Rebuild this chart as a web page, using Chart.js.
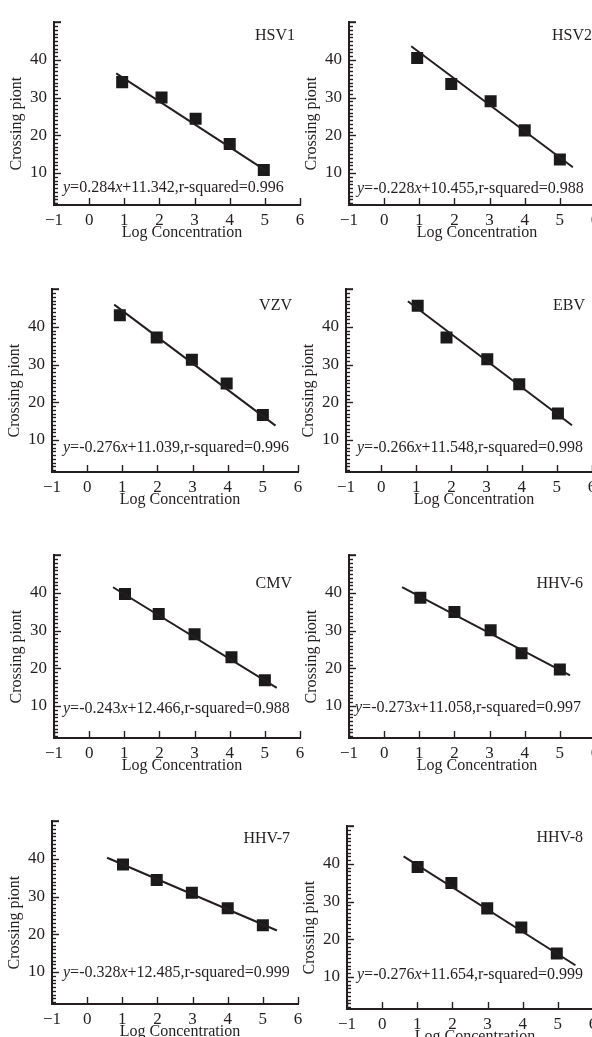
<!DOCTYPE html>
<html>
<head>
<meta charset="utf-8">
<script src="https://cdn.jsdelivr.net/npm/chart.js@4.4.1/dist/chart.umd.min.js"></script>
<style>
  html, body { margin: 0; padding: 0; background: #fff; }
  body { width: 592px; height: 1037px; position: relative; overflow: hidden; }
  canvas { position: absolute; }
</style>
</head>
<body>
<script>
// --- data ---
const virusNames = ["HSV1", "HSV2", "VZV", "EBV", "CMV", "HHV-6", "HHV-7", "HHV-8"];
const equations = [
  "y=0.284x+11.342,r-squared=0.996",
  "y=-0.228x+10.455,r-squared=0.988",
  "y=-0.276x+11.039,r-squared=0.996",
  "y=-0.266x+11.548,r-squared=0.998",
  "y=-0.243x+12.466,r-squared=0.988",
  "y=-0.273x+11.058,r-squared=0.997",
  "y=-0.328x+12.485,r-squared=0.999",
  "y=-0.276x+11.654,r-squared=0.999"
];
const xTicks = [-1, 0, 1, 2, 3, 4, 5, 6];
const yTicks = [10, 20, 30, 40];

// measured points (log concentration, crossing point)
const pointLogConc = [
  [0.94, 2.06, 3.03, 4.00, 4.97],
  [0.94, 1.91, 3.03, 4.00, 5.00],
  [0.93, 1.98, 2.98, 3.97, 5.00],
  [1.04, 1.86, 3.02, 3.93, 5.03],
  [1.02, 1.98, 3.00, 4.05, 5.00],
  [1.03, 2.00, 3.03, 3.91, 5.00],
  [1.02, 1.98, 2.98, 4.00, 5.00],
  [1.01, 1.97, 2.99, 3.96, 4.97]
];
const pointCp = [
  [34.1, 30.0, 24.4, 17.7, 10.8],
  [40.5, 33.6, 29.0, 21.3, 13.6],
  [43.1, 37.2, 31.3, 25.0, 16.6],
  [45.6, 37.2, 31.4, 24.8, 17.0],
  [39.7, 34.4, 29.0, 22.9, 16.8],
  [38.7, 34.9, 30.1, 24.0, 19.7],
  [38.5, 34.4, 31.0, 26.9, 22.4],
  [39.2, 34.9, 28.2, 23.1, 16.2]
];
// fitted line ends
const fitLogConc = [
  [0.77, 5.05], [0.77, 5.37], [0.77, 5.36], [0.76, 5.43],
  [0.68, 5.34], [0.51, 5.29], [0.57, 5.40], [0.61, 5.50]
];
const fitCp = [
  [36.4, 10.5], [43.6, 11.5], [45.9, 13.8], [46.8, 13.9],
  [41.5, 14.8], [41.5, 18.1], [40.3, 21.0], [42.0, 13.1]
];

// --- page layout (pixels) ---
const panelPos = [
  {axisX: 54,  capY: 13,  titleDx: -5,  titleDy: 14, eqDx: 9,  eqDy: -17},
  {axisX: 349, capY: 13,  titleDx: -3,  titleDy: 14, eqDx: 8,  eqDy: -16},
  {axisX: 52,  capY: 280, titleDx: -6,  titleDy: 17, eqDx: 11, eqDy: -24},
  {axisX: 346, capY: 280, titleDx: -7,  titleDy: 17, eqDx: 11, eqDy: -24},
  {axisX: 54,  capY: 546, titleDx: -8,  titleDy: 29, eqDx: 9,  eqDy: -29},
  {axisX: 349, capY: 546, titleDx: -12, titleDy: 29, eqDx: 6,  eqDy: -30},
  {axisX: 52,  capY: 812, titleDx: -8,  titleDy: 18, eqDx: 11, eqDy: -31},
  {axisX: 347, capY: 817, titleDx: -10, titleDy: 12, eqDx: 10, eqDy: -34}
];

const ink = "#231f20";
const serif = '"Liberation Serif", "Times New Roman", serif';
const Y_AXIS_W = 54, TOP_PAD = 8, AREA_H = 192, AREA_W = 246, X_AXIS_H = 45, RIGHT_PAD = 12;

function line(ctx, x1, y1, x2, y2) {
  ctx.beginPath();
  ctx.moveTo(x1, y1);
  ctx.lineTo(x2, y2);
  ctx.stroke();
}

const decorPlugin = {
  id: "decor",
  afterDraw(chart, args, opts) {
    const ctx = chart.ctx;
    const a = chart.chartArea;
    const xs = chart.scales.x, ys = chart.scales.y;
    const p = opts.pos;
    ctx.save();
    ctx.strokeStyle = ink;
    ctx.fillStyle = ink;

    // inward ticks
    ctx.lineWidth = 1.4;
    xTicks.forEach(v => {
      const px = Math.round(xs.getPixelForValue(v)) + 0.5;
      line(ctx, px, a.bottom, px, a.bottom - 7);
    });
    for (let v = 2; v <= 49; v++) {
      const py = Math.round(ys.getPixelForValue(v)) + 0.5;
      line(ctx, a.left, py, a.left + (v % 10 === 0 ? 7 : 4), py);
    }
    ctx.lineWidth = 2;
    line(ctx, a.left - 1, a.top, a.left + 7, a.top);

    // virus name
    ctx.font = "16px " + serif;
    ctx.textAlign = "right";
    ctx.textBaseline = "middle";
    ctx.fillText(opts.name, a.right + p.titleDx, a.top + p.titleDy);

    // regression equation with italic y and x
    const m = opts.eq.match(/^y(=[-\d.]+)x(.*)$/);
    const parts = [["y", true], [m[1], false], ["x", true], [m[2], false]];
    let x = a.left + p.eqDx;
    const y = a.bottom + p.eqDy;
    ctx.textAlign = "left";
    parts.forEach(([t, it]) => {
      ctx.font = (it ? "italic " : "") + "16px " + serif;
      ctx.fillText(t, x, y);
      x += ctx.measureText(t).width;
    });

    // axis titles
    ctx.font = "16px " + serif;
    ctx.textAlign = "center";
    ctx.fillText("Log Concentration", (a.left + a.right) / 2 + 5, a.bottom + 28);
    ctx.translate(a.left - 37, (a.top + a.bottom) / 2 + 10);
    ctx.rotate(-Math.PI / 2);
    ctx.fillText("Crossing piont", 0, 0);
    ctx.restore();
  }
};

virusNames.forEach((name, i) => {
  const p = panelPos[i];
  const cv = document.createElement("canvas");
  const w = Y_AXIS_W + AREA_W + RIGHT_PAD;
  const h = TOP_PAD + AREA_H + X_AXIS_H;
  cv.width = w; cv.height = h;
  cv.style.width = w + "px"; cv.style.height = h + "px";
  cv.style.left = (p.axisX - Y_AXIS_W) + "px";
  cv.style.top = (p.capY - TOP_PAD) + "px";
  document.body.appendChild(cv);

  const points = pointLogConc[i].map((v, k) => ({x: v, y: pointCp[i][k]}));
  const fit = fitLogConc[i].map((v, k) => ({x: v, y: fitCp[i][k]}));

  new Chart(cv, {
    type: "scatter",
    data: {
      datasets: [
        {data: fit, showLine: true, borderColor: ink, borderWidth: 2, pointRadius: 0},
        {data: points, pointStyle: "rect", pointRadius: 8.5, backgroundColor: "#1a1a1a", borderColor: "#1a1a1a", borderWidth: 0}
      ]
    },
    options: {
      responsive: false,
      animation: false,
      layout: {padding: {top: TOP_PAD, left: 0, right: RIGHT_PAD, bottom: 0}},
      plugins: {
        legend: {display: false},
        tooltip: {enabled: false},
        decor: {name: name, eq: equations[i], pos: p}
      },
      scales: {
        x: {
          type: "linear", position: "bottom", min: -1, max: 6,
          afterBuildTicks: s => { s.ticks = xTicks.map(v => ({value: v})); },
          afterFit: s => { s.height = X_AXIS_H; },
          grid: {display: false, drawTicks: false},
          border: {display: true, color: ink, width: 2},
          ticks: {
            color: ink, padding: 5, maxRotation: 0, autoSkip: false,
            font: {family: serif, size: 17},
            callback: v => v < 0 ? "\u2212" + Math.abs(v) : String(v)
          }
        },
        y: {
          type: "linear", min: 1.5, max: 50,
          afterBuildTicks: s => { s.ticks = yTicks.map(v => ({value: v})); },
          afterFit: s => { s.width = Y_AXIS_W; },
          grid: {display: false, drawTicks: false},
          border: {display: true, color: ink, width: 2},
          ticks: {color: ink, padding: 7, font: {family: serif, size: 17}}
        }
      }
    },
    plugins: [decorPlugin]
  });
});
</script>
</body>
</html>
